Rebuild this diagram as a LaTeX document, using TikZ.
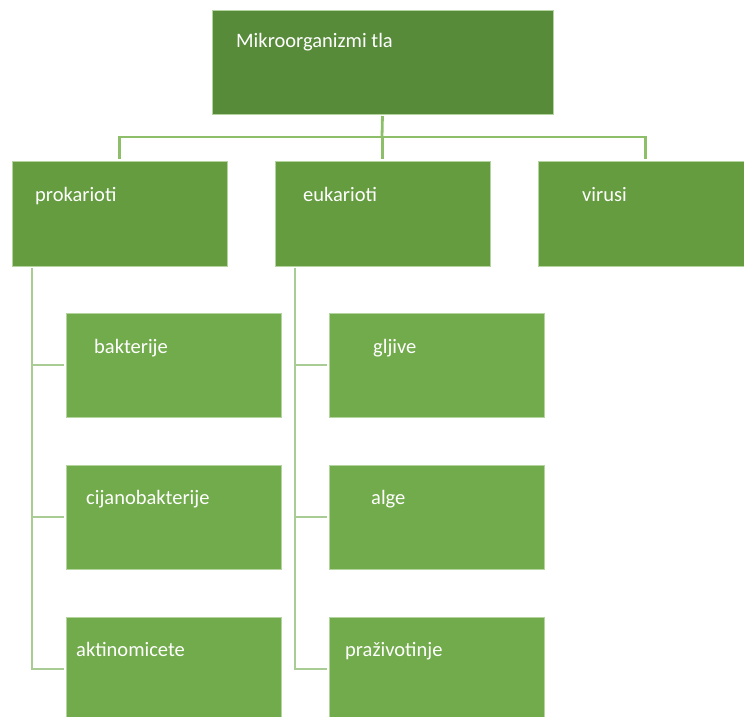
\documentclass[tikz,border=0pt]{standalone}
\usepackage{fontspec}
\setmainfont{Carlito}
\definecolor{topg}{HTML}{578B3A}
\definecolor{midg}{HTML}{659C40}
\definecolor{lowg}{HTML}{72AB4C}
\definecolor{edgeg}{HTML}{B3D49E}
\definecolor{linetop}{HTML}{8DBF6B}
\definecolor{linelow}{HTML}{A9CB94}
\begin{document}
\begin{tikzpicture}[x=1pt,y=-1pt,
  box/.style={draw=edgeg, line width=0.7pt, anchor=north west, minimum width=215pt,
    minimum height=104pt, inner sep=0pt, outer sep=0pt},
  lbl/.style={anchor=base west, inner sep=0pt, text=white, font=\fontsize{20.5}{24}\selectfont},
  conn/.style={line width=2.8pt}]
\useasboundingbox (0,0) rectangle (744,717);
\clip (0,0) rectangle (744,717);
% boxes
\node[box, fill=topg, minimum width=341pt] (top) at (212,10) {};
\node[box, fill=midg, minimum height=105pt] (prok) at (12,161) {};
\node[box, fill=midg, minimum height=105pt] (euk) at (275,161) {};
\node[box, fill=midg, minimum height=105pt] (vir) at (538,161) {};
\node[box, fill=lowg] (bak) at (66,313) {};
\node[box, fill=lowg] (cij) at (66,465) {};
\node[box, fill=lowg] (akt) at (66,617) {};
\node[box, fill=lowg] (glj) at (329,313) {};
\node[box, fill=lowg] (alg) at (329,465) {};
\node[box, fill=lowg] (pra) at (329,617) {};
% labels
\node[lbl] (ttop) at (236,48) {Mikroorganizmi tla};
\node[lbl] (tprok) at (35,201) {prokarioti};
\node[lbl] (teuk) at (303,201) {eukarioti};
\node[lbl] (tvir) at (582,201) {virusi};
\node[lbl] (tbak) at (94,353) {bakterije};
\node[lbl] (tcij) at (86,504) {cijanobakterije};
\node[lbl] (takt) at (76,656) {aktinomicete};
\node[lbl] (tglj) at (373,353) {gljive};
\node[lbl] (talg) at (371,504) {alge};
\node[lbl] (tpra) at (345,656) {praživotinje};
% connectors
\coordinate (hub) at (382,137);
\draw[conn, linetop, shorten <=2pt] (top.south) -- (hub);
\draw[conn, linetop, shorten <=2pt, shorten >=2pt] (prok.north) -- (prok.north |- hub) -- (vir.north |- hub) -- (vir.north);
\draw[conn, linetop, shorten >=2pt] (euk.north |- hub) -- (euk.north);
\coordinate (ps) at (32,268);
\coordinate (es) at (295,268);
\draw[conn, linelow, shorten >=2pt] (ps) |- (akt.west);
\draw[conn, linelow, shorten >=2pt] (ps |- bak.west) -- (bak.west);
\draw[conn, linelow, shorten >=2pt] (ps |- cij.west) -- (cij.west);
\draw[conn, linelow, shorten >=2pt] (es) |- (pra.west);
\draw[conn, linelow, shorten >=2pt] (es |- glj.west) -- (glj.west);
\draw[conn, linelow, shorten >=2pt] (es |- alg.west) -- (alg.west);
\end{tikzpicture}
\end{document}
